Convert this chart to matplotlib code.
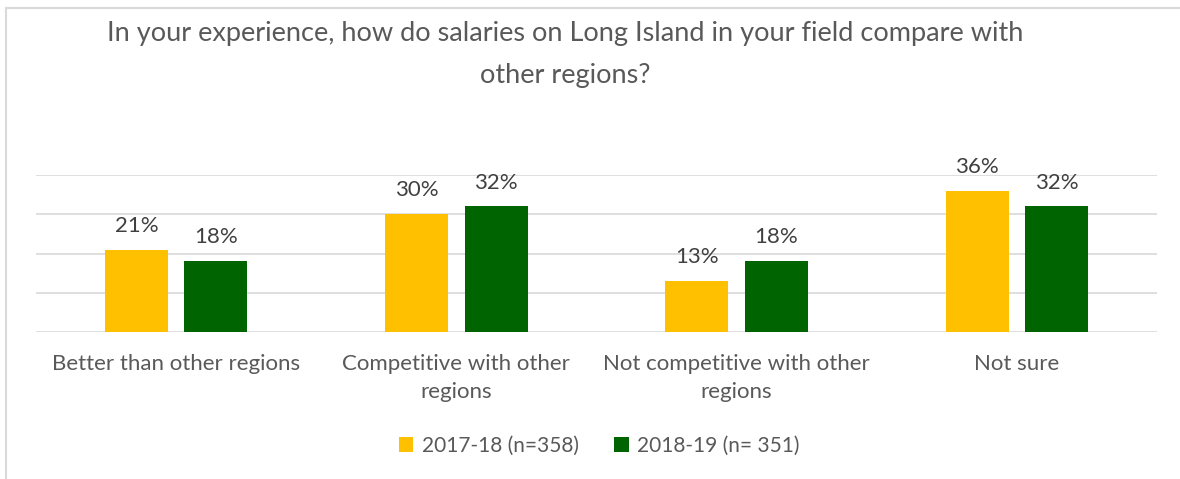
import numpy as np
import matplotlib
matplotlib.use('Agg')
import matplotlib.pyplot as plt
from matplotlib.patches import Rectangle

plt.rcParams['font.family'] = ['Lato', 'DejaVu Sans']

# data
categories = ['Better than other regions', 'Competitive with other\nregions',
              'Not competitive with other\nregions', 'Not sure']
vals_1718 = [21, 30, 13, 36]
vals_1819 = [18, 32, 18, 32]
series_names = ['2017-18 (n=358)', '2018-19 (n= 351)']
colors = ['#FFC000', '#006400']

W, H = 1180, 479
fig = plt.figure(figsize=(W / 100, H / 100), dpi=100)

# chart border (goes off the right / bottom edge like the screenshot)
fig.patches.append(Rectangle((6 / W, -0.1), 1.2, 1 - 8 / H + 0.1, transform=fig.transFigure,
                             fill=False, edgecolor='#d9d9d9', linewidth=1.5))

ax = fig.add_axes([36 / W, (H - 332) / H, (1157 - 36) / W, (332 - 175) / H])

x = np.arange(len(categories))
bw = 0.225
off = 0.142
b1 = ax.bar(x - off, vals_1718, bw, color=colors[0], label=series_names[0], zorder=3)
b2 = ax.bar(x + off, vals_1819, bw, color=colors[1], label=series_names[1], zorder=3)

for bars in (b1, b2):
    for r in bars:
        ax.annotate(f'{r.get_height():.0f}%', (r.get_x() + r.get_width() / 2, r.get_height()),
                    xytext=(0, 10), textcoords='offset points', ha='center', va='bottom',
                    fontsize=16, color='#404040')

ax.set_xlim(-0.5, len(categories) - 0.5)
ax.set_ylim(0, 40)
ax.set_yticks([0, 10, 20, 30, 40])
ax.yaxis.grid(True, color='#d9d9d9', linewidth=1.2, zorder=0)
ax.set_yticklabels([])
ax.tick_params(axis='y', length=0)
ax.tick_params(axis='x', length=0, pad=16)
ax.set_xticks(x)
ax.set_xticklabels(categories, fontsize=16, color='#595959', linespacing=1.5, va='top')
for s in ax.spines.values():
    s.set_visible(False)

fig.text(565 / W, 1 - 55 / H, 'In your experience, how do salaries on Long Island in your field compare with\nother regions?',
         ha='center', va='center', fontsize=19.5, color='#595959', linespacing=1.85)

fig.legend(handles=[b1, b2], labels=series_names, loc='center', bbox_to_anchor=(599 / W, 1 - 446 / H),
           ncol=2, frameon=False, fontsize=15, labelcolor='#595959',
           handlelength=0.7, handleheight=0.7, handletextpad=0.4, columnspacing=1.7)

fig.savefig('out.png', dpi=100)
